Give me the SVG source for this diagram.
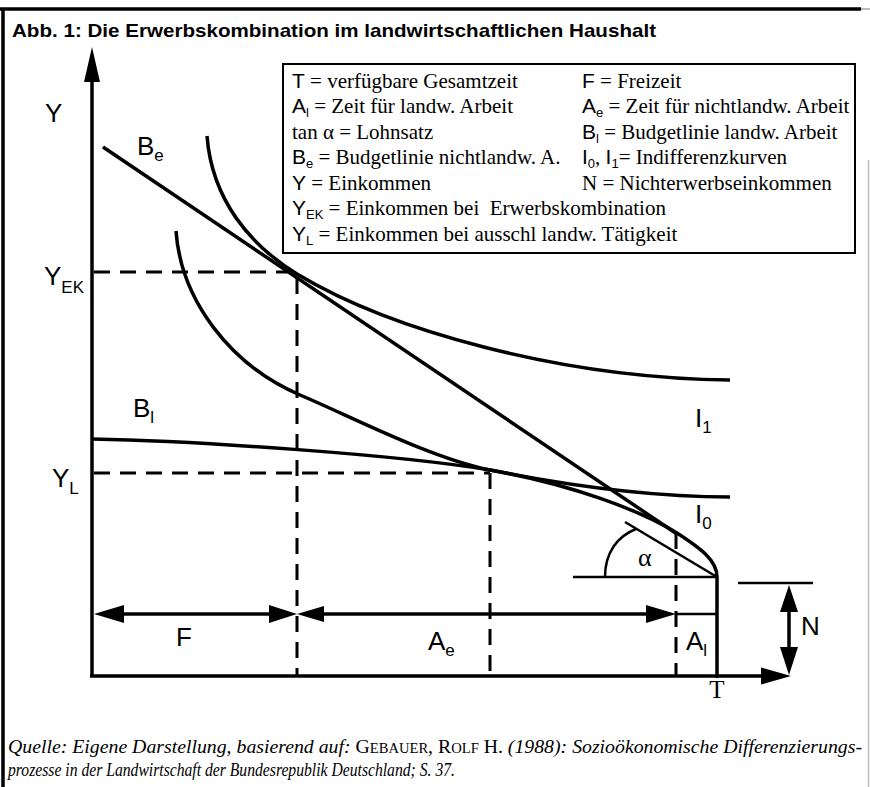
<svg xmlns="http://www.w3.org/2000/svg" width="870" height="787" viewBox="0 0 870 787">
<style>
.ln{fill:none;stroke:#000;stroke-width:3.5;stroke-linecap:butt}
.thin{fill:none;stroke:#000;stroke-width:2.5}
.dash{fill:none;stroke:#000;stroke-width:3;stroke-dasharray:16 10}
.ah{fill:#000;stroke:none}
.lab{font-family:"Liberation Sans",Arial,sans-serif;font-size:26px;fill:#000}
.sub{font-size:17px}
.leg{font-family:"Liberation Serif","Times New Roman",serif;font-size:21px;fill:#000}
.sf{font-family:"Liberation Sans",Arial,sans-serif}
.ls{font-size:13px}
.ser{font-family:"Liberation Serif","Times New Roman",serif;fill:#000}
.cap{font-family:"Liberation Serif","Times New Roman",serif;font-size:19px;font-style:italic;fill:#000}
</style>

<g id="frame">
  <line x1="0" y1="9" x2="861" y2="9" stroke="#000" stroke-width="3.5"/>
  <line x1="861" y1="9" x2="870" y2="9" stroke="#bbb" stroke-width="2"/>
  <line x1="3" y1="8" x2="3" y2="787" stroke="#000" stroke-width="3.5"/>
  <line x1="868.5" y1="160" x2="868.5" y2="787" stroke="#bbb" stroke-width="1.5"/>
</g>

<g id="title">
  <text x="12" y="37" font-family="'Liberation Sans',Arial,sans-serif" font-weight="bold" font-size="19" textLength="644" lengthAdjust="spacingAndGlyphs">Abb. 1: Die Erwerbskombination im landwirtschaftlichen Haushalt</text>
</g>

<g id="legend">
  <rect x="283" y="64" width="572" height="189" fill="#fff" stroke="#000" stroke-width="2"/>
  <text class="leg" x="292" y="88"><tspan class="sf">T</tspan> = verfügbare Gesamtzeit</text>
  <text class="leg" x="582" y="88"><tspan class="sf">F</tspan> = Freizeit</text>
  <text class="leg" x="292" y="113"><tspan class="sf">A</tspan><tspan class="sf ls" dy="4">l</tspan><tspan dy="-4"> = Zeit für landw. Arbeit</tspan></text>
  <text class="leg" x="582" y="113"><tspan class="sf">A</tspan><tspan class="sf ls" dy="4">e</tspan><tspan dy="-4"> = Zeit für nichtlandw. Arbeit</tspan></text>
  <text class="leg" x="292" y="139">tan α = Lohnsatz</text>
  <text class="leg" x="582" y="139"><tspan class="sf">B</tspan><tspan class="sf ls" dy="4">l</tspan><tspan dy="-4"> = Budgetlinie landw. Arbeit</tspan></text>
  <text class="leg" x="292" y="164"><tspan class="sf">B</tspan><tspan class="sf ls" dy="4">e</tspan><tspan dy="-4"> = Budgetlinie nichtlandw. A.</tspan></text>
  <text class="leg" x="582" y="164"><tspan class="sf">I</tspan><tspan class="sf ls" dy="4">0</tspan><tspan dy="-4">, </tspan><tspan class="sf">I</tspan><tspan class="sf ls" dy="4">1</tspan><tspan dy="-4">= Indifferenzkurven</tspan></text>
  <text class="leg" x="292" y="190"><tspan class="sf">Y</tspan> = Einkommen</text>
  <text class="leg" x="582" y="190">N = Nichterwerbseinkommen</text>
  <text class="leg" x="292" y="215"><tspan class="sf">Y</tspan><tspan class="sf ls" dy="4">EK</tspan><tspan dy="-4"> = Einkommen bei&#160; Erwerbskombination</tspan></text>
  <text class="leg" x="292" y="241"><tspan class="sf">Y</tspan><tspan class="sf ls" dy="4">L</tspan><tspan dy="-4"> = Einkommen bei ausschl landw. Tätigkeit</tspan></text>
</g>

<g id="axes">
  <line class="ln" x1="92" y1="70" x2="92" y2="677"/>
  <polygon class="ah" points="92,47 84,82 100,82"/>
  <line class="ln" x1="90" y1="676" x2="770" y2="676"/>
  <polygon class="ah" points="791,676 761,667.5 761,684.5"/>
  <line class="ln" x1="717" y1="577" x2="717" y2="678"/>
</g>

<g id="connectors">
  <line class="dash" x1="94" y1="272" x2="297" y2="272"/>
  <line class="dash" x1="297" y1="278" x2="297" y2="676"/>
  <line class="dash" x1="94" y1="473" x2="490" y2="473"/>
  <line class="dash" x1="490" y1="473" x2="490" y2="676"/>
  <line class="dash" x1="676" y1="533" x2="676" y2="676"/>
  <line class="ln" x1="110" y1="614" x2="285" y2="614"/>
  <polygon class="ah" points="94,614 124,605 124,623"/>
  <polygon class="ah" points="297,614 269,605 269,623"/>
  <line class="ln" x1="310" y1="614" x2="660" y2="614"/>
  <polygon class="ah" points="297,614 324,606 324,622"/>
  <polygon class="ah" points="676,614 646,605 646,623"/>
  <line class="thin" x1="676" y1="614" x2="717" y2="614" stroke-width="3"/>
  <line class="thin" x1="738" y1="583" x2="813" y2="583" stroke-width="3"/>
  <line class="ln" x1="789" y1="600" x2="789" y2="660"/>
  <polygon class="ah" points="789,585 780,612 798,612"/>
  <polygon class="ah" points="789,675 780,647 798,647"/>
  <line class="thin" x1="573" y1="577" x2="717" y2="577"/>
  <line class="thin" x1="625" y1="522" x2="717" y2="577"/>
  <path class="thin" d="M605,577 C605,552 618,536 636,529"/>
</g>

<g id="curves">
  <line class="ln" x1="103" y1="147" x2="677" y2="534"/>
  <path class="ln" d="M207,136 C212,200 250,245 297,274 C390,330 560,378 730,380"/>
  <path class="ln" d="M176,231 C181,300 230,365 300,395 C350,416 430,458 490,470 C550,482 640,497 730,497"/>
  <path class="ln" d="M92,439 C200,441 400,455 490,470 C570,484 640,510 677,533 C700,548 717,560 717,577"/>
</g>

<g id="labels">
  <text class="lab" x="45" y="122">Y</text>
  <text class="lab" x="137" y="155">B<tspan class="sub" dy="6">e</tspan></text>
  <text class="lab" x="44" y="285">Y<tspan class="sub" dy="8">EK</tspan></text>
  <text class="lab" x="133" y="417">B<tspan class="sub" dy="6">l</tspan></text>
  <text class="lab" x="52" y="487">Y<tspan class="sub" dy="7">L</tspan></text>
  <text class="lab" x="695" y="427">I<tspan class="sub" dy="6">1</tspan></text>
  <text class="lab" x="695" y="523">I<tspan class="sub" dy="6">0</tspan></text>
  <text class="ser" x="638" y="566" font-size="26">α</text>
  <text class="lab" x="176" y="646">F</text>
  <text class="lab" x="428" y="650">A<tspan class="sub" dy="6">e</tspan></text>
  <text class="lab" x="686" y="650">A<tspan class="sub" dy="6">l</tspan></text>
  <text class="lab" x="801" y="635">N</text>
  <text class="ser" x="717" y="698" font-size="25" text-anchor="middle">T</text>
</g>

<g id="caption">
  <text class="cap" x="8" y="753" textLength="854" lengthAdjust="spacingAndGlyphs">Quelle: Eigene Darstellung, basierend auf: <tspan font-style="normal">G<tspan font-size="14">EBAUER</tspan>, R<tspan font-size="14">OLF</tspan> H.</tspan> (1988): Sozioökonomische Differenzierungs-</text>
  <text class="cap" x="8" y="776" textLength="447" lengthAdjust="spacingAndGlyphs">prozesse in der Landwirtschaft der Bundesrepublik Deutschland; S. 37.</text>
</g>
</svg>
